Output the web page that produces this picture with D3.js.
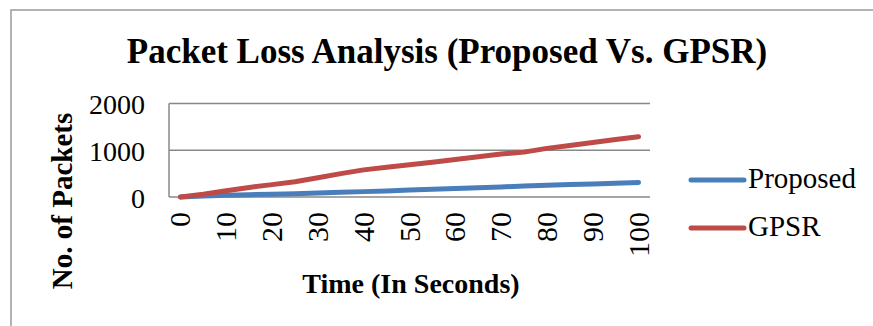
<!DOCTYPE html>
<html><head><meta charset="utf-8">
<script src="https://cdn.jsdelivr.net/npm/d3@7"></script>
<style>html,body{margin:0;padding:0;background:#fff;}svg{display:block;}</style>
</head><body>
<script>
const times = [0,5,10,15,20,25,30,35,40,45,50,55,60,65,70,75,80,85,90,95,100];
const proposed = [0,20,40,50,60,70,85,100,115,130,150,165,180,200,215,235,250,265,280,295,310];
const gpsr = [0,60,135,205,265,325,410,500,580,635,690,745,800,860,920,960,1040,1100,1165,1230,1290];
const xTickLabels = [0,10,20,30,40,50,60,70,80,90,100];
const yTicks = [0,1000,2000];
const seriesNames = ["Proposed","GPSR"];
const colors = ["#4A7EBB","#BE4B48"];

const W=873,H=326;
const svg=d3.select("body").append("svg").attr("width",W).attr("height",H);
svg.append("rect").attr("x",11).attr("y",10).attr("width",W).attr("height",H).attr("fill","#fff").attr("stroke","#999").attr("stroke-width",1.5);

const x=d3.scalePoint().domain(times).range([169,650]).padding(0.5);
const y=d3.scaleLinear().domain([0,2000]).range([197,103.5]);

svg.append("g").selectAll("line").data(yTicks.filter(d=>d>0)).join("line")
  .attr("x1",169).attr("x2",650).attr("y1",d=>y(d)).attr("y2",d=>y(d))
  .attr("stroke","#888").attr("stroke-width",1.5);
svg.append("line").attr("x1",169).attr("x2",169).attr("y1",y(2000)).attr("y2",y(0)).attr("stroke","#888").attr("stroke-width",1.5);
svg.append("line").attr("x1",169).attr("x2",650).attr("y1",y(0)).attr("y2",y(0)).attr("stroke","#888").attr("stroke-width",1.5);

const font="'Liberation Serif','Times New Roman',serif";
svg.append("g").selectAll("text").data(yTicks).join("text")
  .attr("x",145).attr("y",d=>y(d)+1).attr("dy","0.35em").attr("text-anchor","end")
  .attr("font-family",font).attr("font-size",28).text(d=>d);

svg.append("g").selectAll("text").data(xTickLabels).join("text")
  .attr("transform",d=>`translate(${x(d)+10},212) rotate(-90)`)
  .attr("text-anchor","end").attr("font-family",font).attr("font-size",30).text(d=>d);

const line=d3.line().x((d,i)=>x(times[i])).y(d=>y(d));
[proposed,gpsr].forEach((s,k)=>{
  svg.append("path").datum(s).attr("d",line).attr("fill","none")
    .attr("stroke",colors[k]).attr("stroke-width",5).attr("stroke-linecap","round").attr("stroke-linejoin","round");
});

svg.append("text").attr("x",447).attr("y",63).attr("text-anchor","middle")
  .attr("font-family",font).attr("font-weight","bold").attr("font-size",35)
  .text("Packet Loss Analysis (Proposed Vs. GPSR)");
svg.append("text").attr("transform","translate(72,201) rotate(-90)").attr("text-anchor","middle")
  .attr("font-family",font).attr("font-weight","bold").attr("font-size",29).text("No. of Packets");
svg.append("text").attr("x",411).attr("y",293).attr("text-anchor","middle")
  .attr("font-family",font).attr("font-weight","bold").attr("font-size",28).text("Time (In Seconds)");

const lg=svg.append("g");
seriesNames.forEach((n,k)=>{
  const yy=[180,228][k];
  lg.append("line").attr("x1",691).attr("x2",744).attr("y1",yy).attr("y2",yy)
    .attr("stroke",colors[k]).attr("stroke-width",5).attr("stroke-linecap","round");
  lg.append("text").attr("x",748).attr("y",yy+8).attr("font-family",font).attr("font-size",29).text(n);
});
</script>
</body></html>
